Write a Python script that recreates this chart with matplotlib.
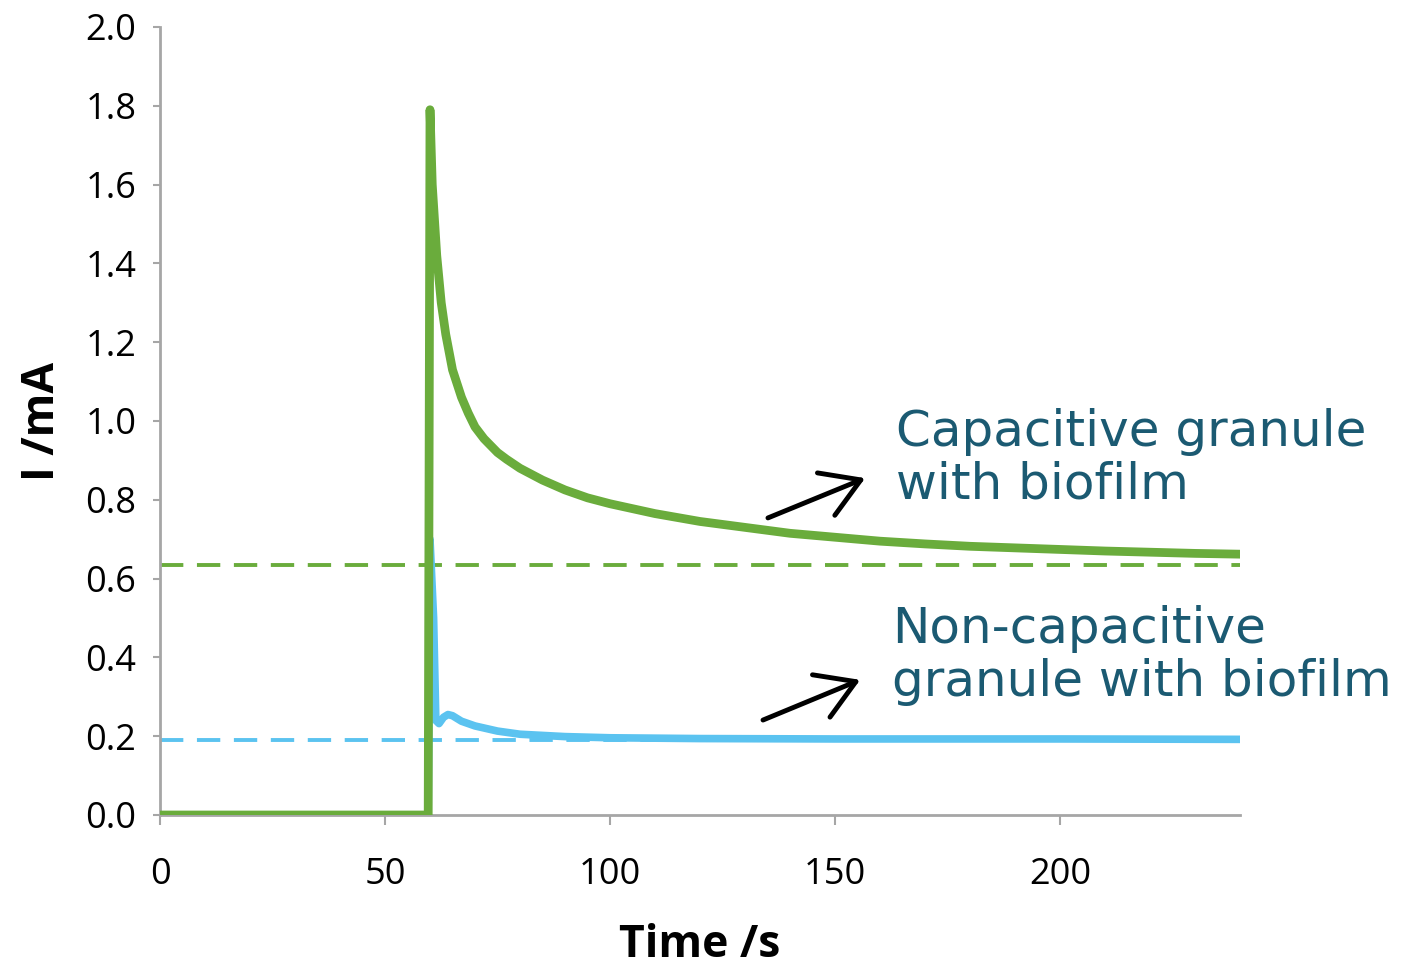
import matplotlib
matplotlib.use("Agg")
import matplotlib.pyplot as plt

# ---- data ----
green_t = [0, 59.6, 60.0, 60.5, 61.5, 62.5, 63.5, 65, 67, 68.5, 70, 72, 75, 77, 80, 85, 90, 95, 100,
           110, 120, 130, 140, 150, 160, 170, 180, 190, 200, 210, 220, 230, 240]
green_i = [0, 0, 1.79, 1.60, 1.42, 1.30, 1.22, 1.13, 1.06, 1.02, 0.985, 0.955, 0.92, 0.903, 0.88, 0.85,
           0.825, 0.805, 0.79, 0.765, 0.745, 0.73, 0.715, 0.705, 0.695, 0.688, 0.682, 0.678, 0.674,
           0.670, 0.667, 0.664, 0.662]

blue_t = [0, 59.6, 60.0, 60.8, 61.3, 62, 63, 64, 65, 67, 70, 75, 80, 90, 100, 120, 150, 200, 240]
blue_i = [0, 0, 0.70, 0.50, 0.24, 0.232, 0.248, 0.255, 0.252, 0.238, 0.226, 0.213, 0.205, 0.199,
          0.196, 0.194, 0.193, 0.193, 0.192]

green_baseline = 0.635
blue_baseline = 0.19

x_ticks = [0, 50, 100, 150, 200]
y_ticks = [0.0, 0.2, 0.4, 0.6, 0.8, 1.0, 1.2, 1.4, 1.6, 1.8, 2.0]

label_cap = "Capacitive granule\nwith biofilm"
label_noncap = "Non-capacitive\ngranule with biofilm"

green = "#6AAC3C"
blue = "#5BC3F0"
text_col = "#1B5A72"
spine_col = "#A6A6A6"

fig = plt.figure(figsize=(14.03, 9.67), dpi=100)
ax = fig.add_axes([160/1403, 1 - 815/967, 1080/1403, 788/967])

ax.plot([0, 240], [green_baseline]*2, color=green, lw=2.8, ls=(0, (6, 3.5)), zorder=2)
ax.plot([0, 240], [blue_baseline]*2, color=blue, lw=2.8, ls=(0, (6, 3.5)), zorder=2)
ax.plot(blue_t, blue_i, color=blue, lw=5.5, solid_capstyle='round', solid_joinstyle='round', zorder=3)
ax.plot(green_t, green_i, color=green, lw=6.3, solid_capstyle='round', solid_joinstyle='round', zorder=4)

ax.set_xlim(0, 240)
ax.set_ylim(0, 2.0)
ax.set_xticks(x_ticks)
ax.set_yticks(y_ticks)
ax.set_yticklabels([f"{v:.1f}" for v in y_ticks])

for s in ["top", "right"]:
    ax.spines[s].set_visible(False)
for s in ["left", "bottom"]:
    ax.spines[s].set_color(spine_col)
    ax.spines[s].set_linewidth(2)

ax.tick_params(axis='y', direction='out', length=5, width=1.5, color=spine_col,
               labelsize=26, pad=12)
ax.tick_params(axis='x', direction='out', length=7, width=1.5, color=spine_col,
               labelsize=26, pad=23)
for lab in ax.get_xticklabels() + ax.get_yticklabels():
    lab.set_fontfamily("Open Sans")

ax.set_xlabel("Time /s", fontsize=32, fontweight='bold', family="Open Sans")
ax.set_ylabel("I /mA", fontsize=32, fontweight='bold', family="Open Sans")
ax.xaxis.set_label_coords(0.5, -0.137)
ax.yaxis.set_label_coords(-0.088, 0.5)

ax.text(163.5, 0.905, label_cap, fontsize=36, color=text_col, family="DejaVu Sans",
        va='center', ha='left', linespacing=1.13, zorder=5)
ax.text(162.6, 0.405, label_noncap, fontsize=36, color=text_col, family="DejaVu Sans",
        va='center', ha='left', linespacing=1.13, zorder=5, clip_on=False)

arrow_kw = dict(arrowstyle="->,head_length=0.9,head_width=0.55", color="black", lw=3.5,
                mutation_scale=30, shrinkA=0, shrinkB=0)
ax.annotate("", xy=(156.7, 0.855), xytext=(135.1, 0.754), arrowprops=arrow_kw)
ax.annotate("", xy=(155.6, 0.343), xytext=(134.0, 0.241), arrowprops=arrow_kw)

fig.savefig("out.png", dpi=100)
